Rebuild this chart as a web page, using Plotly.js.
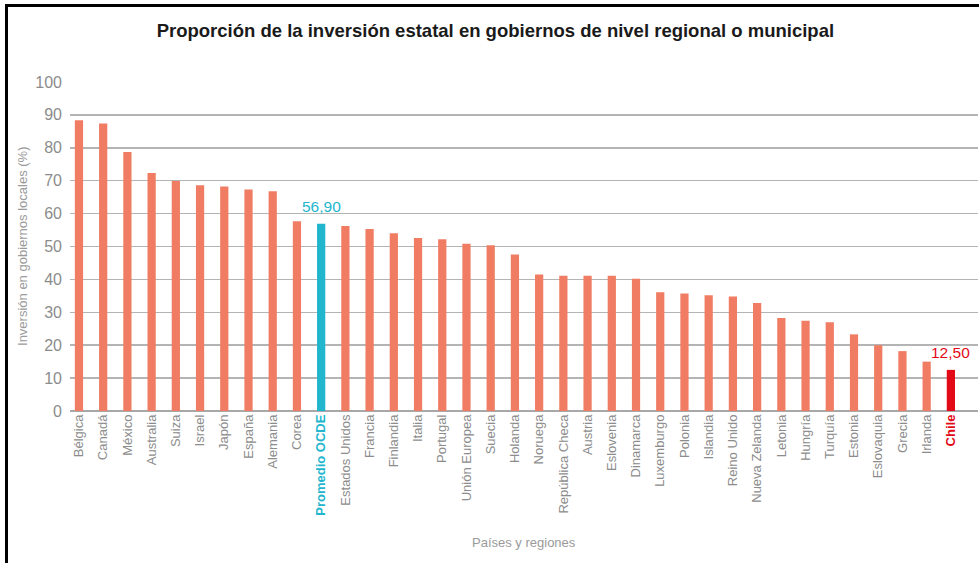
<!DOCTYPE html>
<html>
<head>
<meta charset="utf-8">
<script src="https://cdn.plot.ly/plotly-3.0.1.min.js"></script>
<style>
html,body{margin:0;padding:0;background:#fff;}
#wrap{position:relative;width:979px;height:563px;overflow:hidden;}
#chart{position:absolute;left:0;top:0;width:979px;height:563px;}
#frame{position:absolute;left:5px;top:4px;width:1000px;height:600px;border-left:3px solid #000;border-top:3px solid #000;pointer-events:none;}
</style>
</head>
<body>
<div id="wrap"><div id="chart"></div><div id="frame"></div></div>
<script>
const categories = ["Bélgica","Canadá","México","Australia","Suiza","Israel","Japón","España","Alemania","Corea","Promedio OCDE","Estados Unidos","Francia","Finlandia","Italia","Portugal","Unión Europea","Suecia","Holanda","Noruega","República Checa","Austria","Eslovenia","Dinamarca","Luxemburgo","Polonia","Islandia","Reino Unido","Nueva Zelanda","Letonia","Hungría","Turquía","Estonia","Eslovaquia","Grecia","Irlanda","Chile"];
const values = [88.4,87.4,78.7,72.3,69.9,68.6,68.2,67.3,66.8,57.7,56.9,56.2,55.3,54.0,52.6,52.2,50.8,50.4,47.6,41.5,41.1,41.1,41.1,40.2,36.1,35.7,35.2,34.8,32.8,28.3,27.4,27.0,23.3,20.0,18.2,15.0,12.5];
const highlightLabels = {"Promedio OCDE":"56,90","Chile":"12,50"};
const yTicks = [0,10,20,30,40,50,60,70,80,90,100];

const baseColor = "#F07D63";
const highlightColors = {"Promedio OCDE":"#22B6CE","Chile":"#E30A17"};
const tickGray = "#8c8c8c";
const font = "Liberation Sans, Arial, sans-serif";

const barColors = categories.map(c => highlightColors[c] || baseColor);
const tickText = categories.map(c => highlightColors[c]
  ? `<b><span style="color:${highlightColors[c]}">${c}</span></b>` : c);

const annotations = categories.map((c,i) => highlightLabels[c] ? {
  x: c, y: values[i], xref:'x', yref:'y', text: highlightLabels[c],
  showarrow:false, yanchor:'bottom', yshift:7,
  font:{family:font, size:15.5, color:highlightColors[c]}
} : null).filter(a => a);

annotations.push({
  text:"Países y regiones", xref:'paper', yref:'paper', x:0.5, y:-0.399,
  xanchor:'center', yanchor:'middle', showarrow:false,
  font:{family:font, size:13, color:"#9a9a9a"}
});
annotations.push({
  text:"Inversión en gobiernos locales (%)", xref:'paper', yref:'paper', x:-0.0529, y:0.5,
  xanchor:'center', yanchor:'middle', textangle:-90, showarrow:false,
  font:{family:font, size:13, color:"#9a9a9a"}
});

const trace = {
  type:'bar', x:categories, y:values, width:0.34,
  marker:{color:barColors, line:{width:0}},
  hoverinfo:'x+y'
};

const layout = {
  width:979, height:563,
  margin:{l:70, r:1, t:81, b:152},
  paper_bgcolor:'#fff', plot_bgcolor:'#fff',
  showlegend:false,
  title:{text:"<b>Proporción de la inversión estatal en gobiernos de nivel regional o municipal</b>",
    x:0.506, xref:'container', xanchor:'center', y:0.946, yref:'container', yanchor:'middle',
    font:{family:font, size:18.5, color:"#1a1a1a"}},
  xaxis:{
    type:'category', range:[-0.37, 37.12],
    tickmode:'array', tickvals:categories, ticktext:tickText,
    tickangle:-90, tickfont:{family:font, size:13, color:tickGray},
    showgrid:false, zeroline:false, showline:false, ticks:'', automargin:false
  },
  yaxis:{
    range:[0,100.3], tickmode:'array', tickvals:yTicks,
    tickfont:{family:font, size:16, color:tickGray},
    showgrid:true, gridcolor:"#b4b4b4", gridwidth:1.5,
    zeroline:true, zerolinecolor:"#a8a8a8", zerolinewidth:1.5,
    showline:false, ticks:'', ticklabelstandoff:7, automargin:false
  },
  annotations:annotations
};

Plotly.newPlot('chart',[trace],layout,{displayModeBar:false, staticPlot:true});
</script>
</body>
</html>
